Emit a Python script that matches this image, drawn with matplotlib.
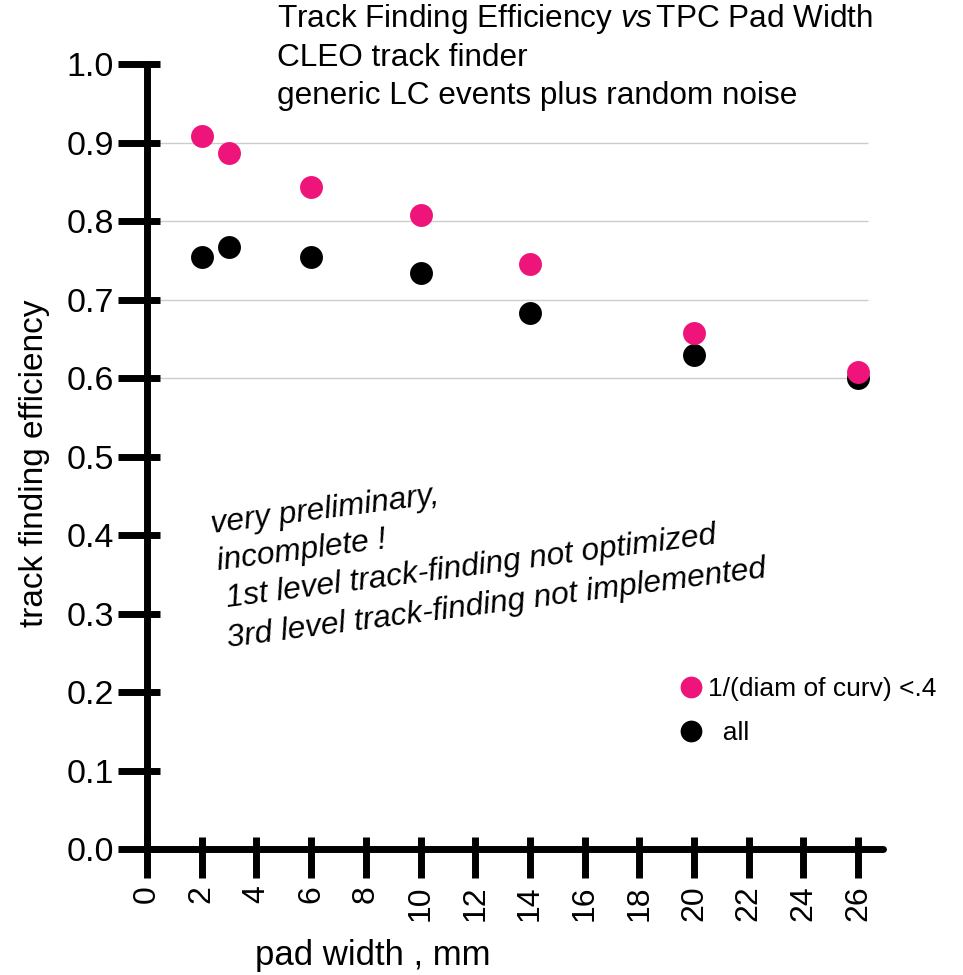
import matplotlib
matplotlib.use("Agg")
import matplotlib.pyplot as plt
from matplotlib.ticker import MultipleLocator, FormatStrFormatter

plt.rcParams['font.family'] = ['Liberation Sans', 'DejaVu Sans']
plt.rcParams['mathtext.fontset'] = 'custom'
plt.rcParams['mathtext.rm'] = 'Liberation Sans'
plt.rcParams['mathtext.it'] = 'Liberation Sans:italic'

# data
pad_width = [2, 3, 6, 10, 14, 20, 26]
eff_curv = [0.908, 0.887, 0.844, 0.808, 0.745, 0.658, 0.608]
eff_all = [0.754, 0.767, 0.754, 0.734, 0.683, 0.630, 0.600]
grid_levels = [0.6, 0.7, 0.8, 0.9]

label_curv = "1/(diam of curv) <.4"
label_all = "  all"

title_lines = ["Track Finding Efficiency $\\mathit{vs}\\,$TPC Pad Width",
               "CLEO track finder",
               "generic LC events plus random noise"]
note_lines = ["very preliminary,",
              "incomplete !",
              "1st level track-finding not optimized",
              "3rd level track-finding not implemented"]

PINK = '#ee1479'
W, H = 963, 975

fig = plt.figure(figsize=(W / 100, H / 100), dpi=100)

# axes box in pixels (left, top, right, bottom)
x0, y0, x1, y1 = 114.2, 40.5, 891.0, 872.6
ax = fig.add_axes([x0 / W, 1 - y1 / H, (x1 - x0) / W, (y1 - y0) / H])
ax.set_xlim(-1.2, 27.2)
ax.set_ylim(-0.03, 1.03)

ax.hlines(grid_levels, 0, 26.36, color='#cccccc', lw=1.0, zorder=0)

ax.plot(pad_width, eff_all, 'o', color='black', markersize=16.5, mec='none',
        label=label_all, zorder=3, clip_on=False)
ax.plot(pad_width, eff_curv, 'o', color=PINK, markersize=16.5, mec='none',
        label=label_curv, zorder=4, clip_on=False)

# axes: thick black lines crossing at the origin
for side in ['top', 'right']:
    ax.spines[side].set_visible(False)
ax.spines['left'].set_position(('data', 0))
ax.spines['bottom'].set_position(('data', 0))
ax.spines['left'].set_bounds(0, 1.0)
ax.spines['bottom'].set_bounds(0, 26.9)
for side in ['left', 'bottom']:
    ax.spines[side].set_linewidth(5)
    ax.spines[side].set_capstyle('round')

ax.xaxis.set_major_locator(MultipleLocator(2))
ax.xaxis.set_minor_locator(MultipleLocator(2))
ax.yaxis.set_major_locator(MultipleLocator(0.1))
ax.yaxis.set_minor_locator(MultipleLocator(0.1))
ax.xaxis.remove_overlapping_locs = False
ax.yaxis.remove_overlapping_locs = False
ax.yaxis.set_major_formatter(FormatStrFormatter('%.1f'))

ax.tick_params(which='major', direction='out', length=21, width=5, color='black')
ax.tick_params(which='minor', direction='in', length=9, width=5, color='black')
ax.tick_params(axis='y', which='major', labelsize=24.5, pad=3)
ax.tick_params(axis='x', which='major', labelsize=23, pad=5, labelrotation=90)

fig.text(35 / W, 1 - 463 / H, "track finding efficiency", rotation=90,
         ha='center', va='center', fontsize=24)
fig.text(373 / W, 1 - 965 / H, "pad width , mm", ha='center', va='baseline',
         fontsize=25)

for i, line in enumerate(title_lines):
    fig.text(277 / W, 1 - (27 + 38.5 * i) / H, line, ha='left', va='baseline',
             fontsize=22.7)

note_pos = [(212, 533), (218, 570), (227, 607), (228, 647)]
for (px, py), line in zip(note_pos, note_lines):
    fig.text(px / W, 1 - py / H, line, ha='left', va='baseline', rotation=7.4,
             rotation_mode='anchor', fontsize=22.8, style='italic')

handles, labels = ax.get_legend_handles_labels()
ax.legend(handles[::-1], labels[::-1], loc='center left',
          bbox_to_anchor=(677.5 / W, 1 - 711 / H), bbox_transform=fig.transFigure,
          frameon=False, fontsize=19, handlelength=1.0, handletextpad=0.15,
          labelspacing=0.75, borderpad=0, borderaxespad=0, markerscale=0.95)

fig.savefig("out.png", dpi=100)
